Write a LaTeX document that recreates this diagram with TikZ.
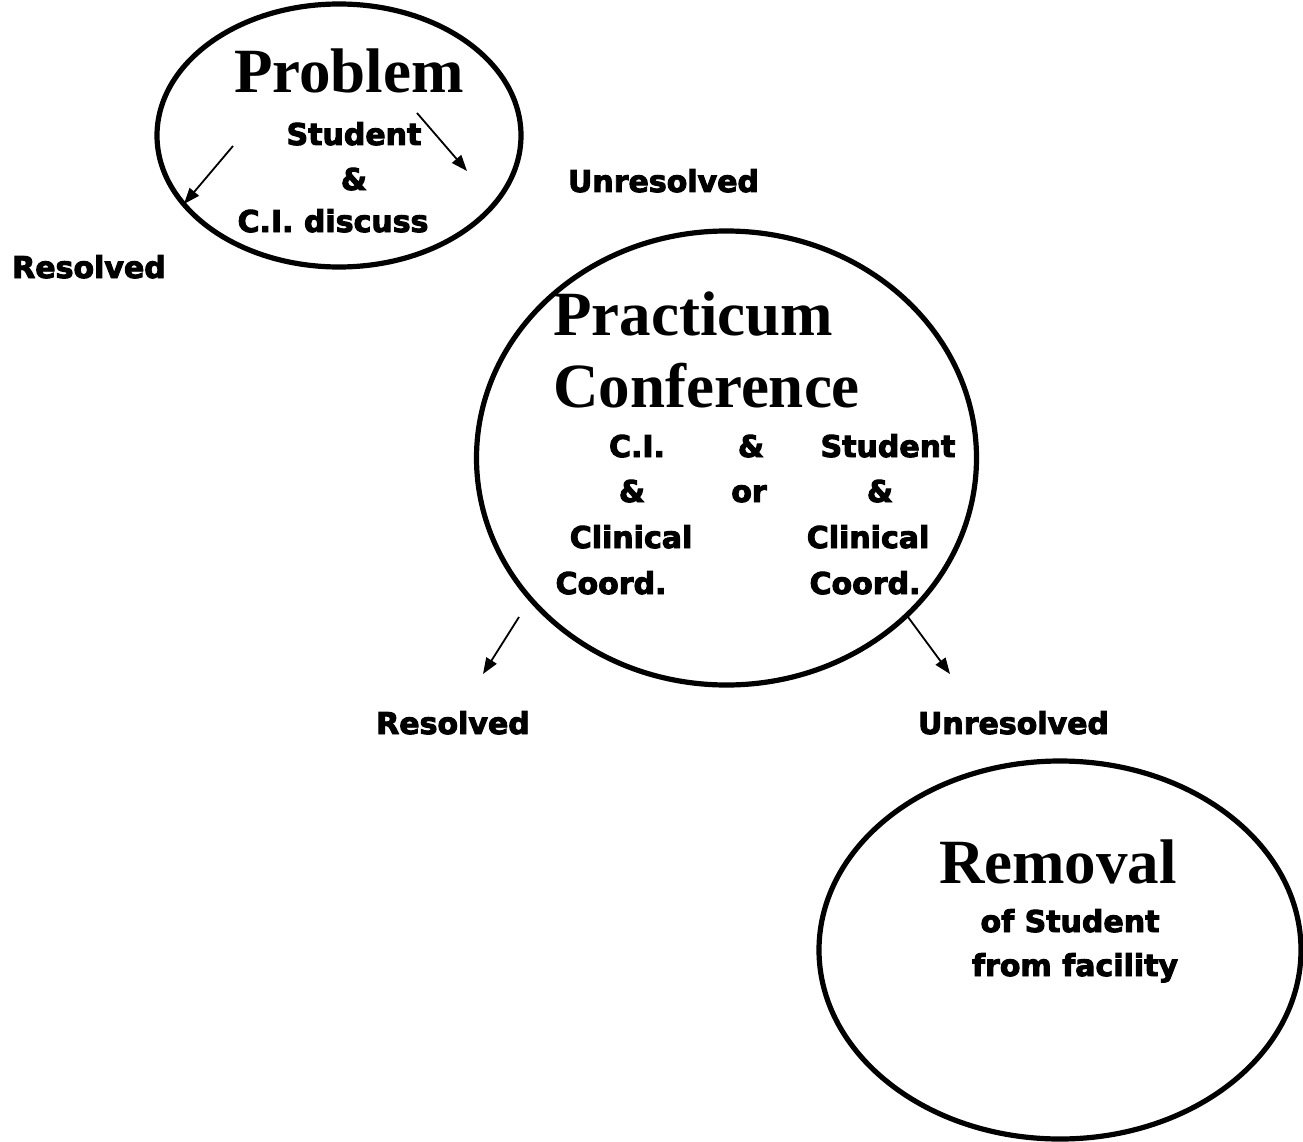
\documentclass[tikz,border=0pt]{standalone}
\usepackage{fontspec}
\usetikzlibrary{shapes.geometric,arrows.meta}
\newfontfamily\heavyfont[FakeBold=3.2]{DejaVu Sans Bold}
\newfontfamily\titlefont{Liberation Serif Bold}
\tikzset{
  bubble/.style={draw=black, line width=5.2pt, ellipse, inner sep=0pt},
  heading/.style={font=\titlefont\fontsize{63}{63}\selectfont, inner sep=0pt},
  label/.style={font=\heavyfont\fontsize{30}{30}\selectfont, inner sep=0pt, anchor=base},
  flow/.style={line width=1.8pt, -{Triangle[length=16pt,width=12pt]}}
}
\begin{document}
\begin{tikzpicture}[x=1pt,y=-1pt]
\useasboundingbox (0,0) rectangle (1303,1142);
% ellipses
\node[bubble, minimum width=364pt, minimum height=263pt] (problem) at (339,135.5) {};
\node[bubble, minimum width=500pt, minimum height=454pt] (conf) at (726.5,458) {};
\node[bubble, minimum width=482pt, minimum height=378pt] (removal) at (1060,950) {};
% problem texts
\node[heading, anchor=base] (tproblem) at (349,93) {Problem};
\node[label] (pstudent) at (354,145) {Student};
\node[label] (pamp) at (354,190) {\&};
\node[label] (pdiscuss) at (333,232) {C.I. discuss};
\node[label] (unres1) at (663.5,192) {Unresolved};
\node[label] (res1) at (89,278) {Resolved};
% conference texts
\node[heading, anchor=base west] (tpract) at (553,335) {Practicum};
\node[heading, anchor=base west] (tconf) at (553,407) {Conference};
\node[label] (c11) at (637,457) {C.I.};
\node[label] (c12) at (751,457) {\&};
\node[label] (c13) at (888,457) {Student};
\node[label] (c21) at (632,502) {\&};
\node[label] (c22) at (749,502) {or};
\node[label] (c23) at (880,502) {\&};
\node[label] (c31) at (631,548) {Clinical};
\node[label] (c33) at (868,548) {Clinical};
\node[label] (c41) at (611,594) {Coord.};
\node[label] (c43) at (865,594) {Coord.};
\node[label] (res2) at (453,734) {Resolved};
\node[label] (unres2) at (1013.5,734) {Unresolved};
% removal texts
\node[heading, anchor=base] (tremoval) at (1058,883) {Removal};
\node[label] (rstudent) at (1070,932) {of Student};
\node[label] (rfacility) at (1075,976) {from facility};
% arrows
\coordinate (a1s) at (233,146);
\coordinate (a1e) at (184,204);
\coordinate (a2s) at (417,113);
\coordinate (a2e) at (467,171);
\coordinate (a3s) at (519,617);
\coordinate (a3e) at (483,674);
\coordinate (a4s) at (908,617);
\coordinate (a4e) at (950,674);
\draw[flow] (a1s) -- (a1e);
\draw[flow] (a2s) -- (a2e);
\draw[flow] (a3s) -- (a3e);
\draw[flow] (a4s) -- (a4e);
\end{tikzpicture}
\end{document}
